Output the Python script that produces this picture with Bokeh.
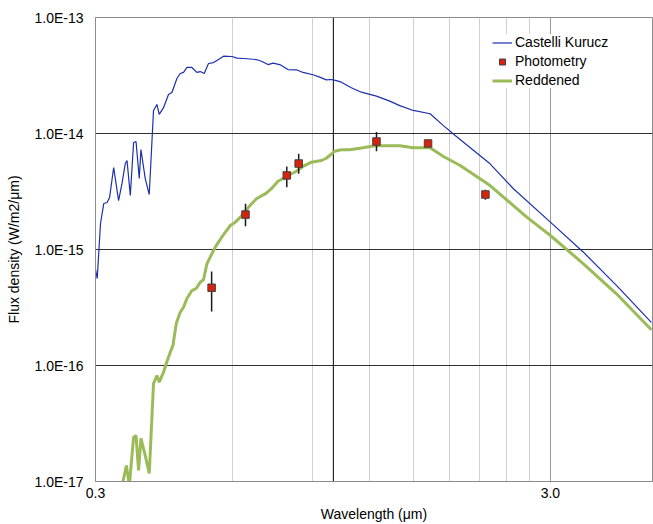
import numpy as np
from bokeh.plotting import figure
from bokeh.models import (FixedTicker, CustomJSTickFormatter, Span, Legend,
                          LegendItem, ColumnDataSource)
from bokeh.embed import file_html
from bokeh.resources import INLINE

# ---- data (flux in units of 1e-15 W/m2/um) ----
UNIT = 1e-15

wl_ck = [0.300, 0.3026, 0.3077, 0.3128, 0.3181, 0.3222, 0.3289, 0.3372, 0.3431, 0.3488,
         0.3519, 0.3578, 0.3638, 0.3683, 0.3744, 0.3776, 0.3859, 0.3938, 0.4024, 0.4094,
         0.4142, 0.4233, 0.4341, 0.4417, 0.4530, 0.4606, 0.4684, 0.4765, 0.4887, 0.5012,
         0.5097, 0.5202, 0.5315, 0.5452, 0.5592, 0.5737, 0.5986, 0.6140, 0.6348, 0.6774,
         0.6949, 0.7185, 0.7370, 0.7623, 0.7949, 0.8295, 0.8576, 0.9020, 0.9330, 0.9651,
         0.9898, 1.0152, 1.0412, 1.0953, 1.1523, 1.2437, 1.3306, 1.3994, 1.4988, 1.6319,
         1.7457, 1.8527, 2.2104, 2.4878, 3.000, 3.5458, 4.1909, 5.000]
flux_ck = [0.673, 0.562, 1.675, 2.49, 2.54, 2.81, 5.09, 2.64, 3.71, 5.51,
           5.85, 2.92, 8.36, 8.53, 4.09, 7.28, 4.09, 2.98, 15.8, 17.8,
           14.6, 16.7, 21.7, 22.6, 29.8, 32.9, 33.6, 37.1, 37.1, 33.6,
           34.2, 32.9, 40.1, 40.9, 43.4, 46.4, 46.1, 44.6, 44.3, 43.4,
           42.0, 39.3, 40.4, 39.3, 35.6, 35.4, 33.6, 32.1, 30.6, 29.0,
           29.2, 28.6, 27.7, 24.8, 22.7, 21.0, 19.0, 17.4, 15.8, 14.8,
           11.7, 9.61, 5.48, 3.34, 1.72, 0.948, 0.49, 0.235]

wl_red = [0.3398, 0.3449, 0.3508, 0.3561, 0.3638, 0.3683, 0.3731, 0.3776, 0.3859, 0.3938,
          0.4024, 0.4094, 0.4142, 0.4233, 0.4292, 0.4380, 0.4440, 0.4515, 0.4606, 0.4684,
          0.4765, 0.4887, 0.4995, 0.5097, 0.5183, 0.5273, 0.5361, 0.5499, 0.5592, 0.5737,
          0.5935, 0.6089, 0.6245, 0.6513, 0.6774, 0.7125, 0.7307, 0.7556, 0.7883, 0.8295,
          0.8576, 0.8950, 0.9415, 0.9651, 0.9815, 1.0067, 1.0412, 1.0866, 1.1619, 1.2339,
          1.3197, 1.3994, 1.4988, 1.6319, 1.7457, 1.9003, 2.2104, 2.6621, 3.000, 3.5458,
          4.1909, 5.000]
flux_red = [0.00685, 0.0101, 0.01374, 0.00924, 0.0241, 0.0249, 0.01245, 0.0235, 0.01675, 0.01172,
            0.0700, 0.0820, 0.0718, 0.0875, 0.104, 0.130, 0.149, 0.230, 0.288, 0.318,
            0.378, 0.443, 0.461, 0.522, 0.548, 0.753, 0.859, 1.047, 1.156, 1.346,
            1.61, 1.72, 1.90, 2.32, 2.74, 3.06, 3.34, 3.88, 4.26, 4.73,
            5.20, 5.66, 5.85, 6.12, 6.46, 7.04, 7.24, 7.24, 7.53, 7.83,
            7.83, 7.83, 7.53, 7.53, 6.33, 5.30, 3.56, 1.90, 1.32, 0.753,
            0.415, 0.203]

wl_phot = [0.540, 0.641, 0.790, 0.839, 1.244, 1.615, 2.159]
flux_phot = [0.468, 2.00, 4.35, 5.51, 8.53, 8.20, 2.98]
flux_phot_lo = [0.292, 1.59, 3.44, 4.50, 7.04, 7.73, 2.68]
flux_phot_hi = [0.646, 2.48, 5.20, 6.68, 10.3, 8.71, 3.27]

x_major_ticks = [0.3, 3.0]
x_minor_ticks = [0.6, 0.9, 1.2, 1.5, 1.8, 2.1, 2.4, 2.7]
y_ticks = [1e-17, 1e-16, 1e-15, 1e-14, 1e-13]

FONT = "Liberation Sans"
FS = "14px"

p = figure(width=653, height=524, x_axis_type="log", y_axis_type="log",
           x_range=(0.3, 5.03), y_range=(1e-17, 1e-13),
           output_backend="svg", toolbar_location=None,
           min_border_left=95, min_border_top=17, min_border_right=1,
           min_border_bottom=43)
p.background_fill_color = "white"
p.border_fill_color = "white"
p.outline_line_color = "#8c8c8c"

# axes
xt = FixedTicker(ticks=x_major_ticks, minor_ticks=x_minor_ticks)
p.xaxis.ticker = xt
p.xgrid.ticker = xt
p.xaxis.formatter = CustomJSTickFormatter(code="return tick.toFixed(1);")
yt = FixedTicker(ticks=y_ticks)
p.yaxis.ticker = yt
p.ygrid.ticker = yt
p.yaxis.formatter = CustomJSTickFormatter(code="return tick.toExponential(1).toUpperCase();")

for ax in (p.xaxis, p.yaxis):
    ax.axis_line_color = "#8c8c8c"
    ax.major_tick_line_color = None
    ax.minor_tick_line_color = None
    ax.major_tick_out = 0
    ax.major_tick_in = 0
    ax.minor_tick_out = 0
    ax.minor_tick_in = 0
    ax.major_label_text_font = FONT
    ax.major_label_text_font_size = FS
    ax.major_label_text_color = "black"
    ax.axis_label_text_font = FONT
    ax.axis_label_text_font_size = FS
    ax.axis_label_text_font_style = "normal"
    ax.axis_label_text_color = "black"

p.xaxis.axis_label = "Wavelength (μm)"
p.yaxis.axis_label = "Flux density (W/m2/μm)"
p.xaxis.major_label_standoff = 6
p.xaxis.axis_label_standoff = 5
p.yaxis.major_label_standoff = 12
p.yaxis.axis_label_standoff = 9

# grids
p.xgrid.grid_line_color = "#9a9a9a"
p.xgrid.minor_grid_line_color = "#cfcfcf"
p.ygrid.grid_line_color = "#303030"

p.add_layout(Span(location=1.0, dimension="height", line_color="black",
                  line_width=1, level="underlay"))

# series
ck = p.line(np.array(wl_ck), np.array(flux_ck) * UNIT, line_color="#1c2fae", line_width=1.2)

src = ColumnDataSource(dict(x=wl_phot, y=np.array(flux_phot) * UNIT,
                            lo=np.array(flux_phot_lo) * UNIT,
                            hi=np.array(flux_phot_hi) * UNIT))
red = p.line(np.array(wl_red), np.array(flux_red) * UNIT, line_color="#9bbb59", line_width=3)
p.segment(x0="x", y0="lo", x1="x", y1="hi", source=src, line_color="#1a1a1a", line_width=1.5)
pts = p.scatter("x", "y", source=src, marker="square", size=7.5,
                fill_color="#d8220e", line_color="#404040", line_width=1)

legend = Legend(items=[LegendItem(label="Castelli Kurucz", renderers=[ck]),
                       LegendItem(label="Photometry", renderers=[pts]),
                       LegendItem(label="Reddened", renderers=[red])],
                location=(397, 393))
legend.margin = 0
legend.padding = 12
legend.spacing = 3
legend.label_height = 15
legend.glyph_height = 15
legend.glyph_width = 20
legend.label_standoff = 3
legend.label_text_font = FONT
legend.label_text_font_size = FS
legend.label_text_color = "black"
legend.border_line_color = None
legend.background_fill_color = "white"
legend.background_fill_alpha = 1.0
p.add_layout(legend)

open("out.html", "w").write(file_html(p, INLINE))
